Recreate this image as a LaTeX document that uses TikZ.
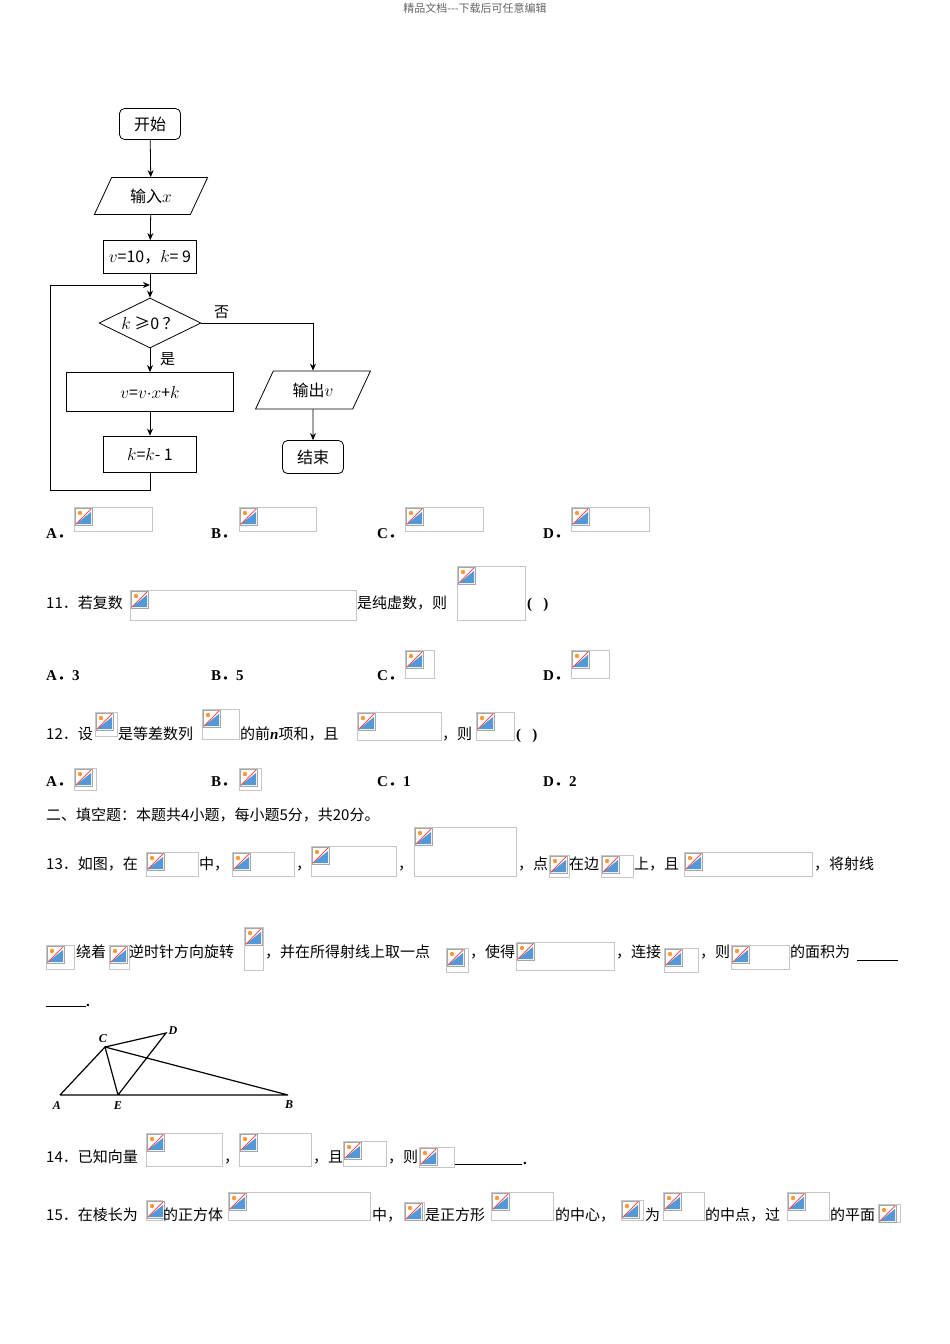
\documentclass[tikz,border=0pt]{standalone}
\usepackage{fontspec}
\setmainfont{Liberation Serif}
\newfontfamily\cjk{Noto Sans CJK SC}
\newcommand\fw{{\cjk ．}}
\usetikzlibrary{shapes.geometric,arrows.meta}
\newcommand\brk[4]{%
 \draw[gray!45,line width=0.6pt] (#1pt,-#2pt) rectangle ++(#3pt,-#4pt);
 \draw[gray!70,fill=white,line width=0.5pt] (#1pt+1pt,-#2pt-1pt) rectangle ++(17pt,-17pt);
 \fill[cyan!60!blue!70] (#1pt+2pt,-#2pt-17pt) -- (#1pt+17pt,-#2pt-17pt) -- (#1pt+17pt,-#2pt-5pt) -- cycle;
 \fill[orange!80] (#1pt+6pt,-#2pt-6pt) circle (2.2pt);
 \draw[red!70,line width=0.8pt] (#1pt+2pt,-#2pt-17pt) -- (#1pt+17pt,-#2pt-2pt);
}
\begin{document}
\begin{tikzpicture}[x=1pt,y=1pt,
 t/.style={anchor=base west,inner sep=0pt,font=\cjk\fontsize{15}{18}\selectfont},
 tb/.style={anchor=base west,inner sep=0pt,font=\bfseries\fontsize{15}{18}\selectfont},
 fc/.style={draw,line width=0.8pt,font=\cjk\fontsize{16}{19}\selectfont},
 arr/.style={-{Stealth[length=7pt,width=6pt]},line width=0.8pt}]
\useasboundingbox (0,0) rectangle (950,-1344);
\fill[white] (0,0) rectangle (950,-1344);
\node[anchor=north,font=\cjk\fontsize{11}{13}\selectfont,text=gray!80!black] (hdr) at (475,0) {精品文档---下载后可任意编辑};
% flowchart
\node[fc,rounded corners=5pt,minimum width=61,minimum height=31] (s) at (150,-124) {开始};
\node[fc,trapezium,trapezium left angle=65,trapezium right angle=115,minimum width=100,minimum height=37,inner xsep=2pt] (in) at (151,-196) {输入$x$};
\node[fc,minimum width=93,minimum height=33] (init) at (150,-257) {$v$=10，$k$= 9};
\node[fc,diamond,aspect=2.1,minimum width=102,minimum height=50,inner sep=0pt] (d) at (150,-323) {$k$ ≥0 ？};
\node[fc,minimum width=167,minimum height=39] (upd) at (150,-392) {$v$=$v{\cdot}x$+$k$};
\node[fc,minimum width=93,minimum height=36] (dec) at (150,-454) {$k$=$k$- 1};
\node[fc,trapezium,trapezium left angle=65,trapezium right angle=115,minimum width=100,minimum height=38,inner xsep=2pt] (out) at (313,-390) {输出$v$};
\node[fc,rounded corners=5pt,minimum width=61,minimum height=33] (e) at (313,-457) {结束};
\node[t] (no) at (214,-317) {否};
\node[t] (yes) at (160,-364) {是};
\coordinate (lp) at (150,-285);
\draw[arr] (s) -- (in);
\draw[arr] (in) -- (init);
\draw[arr] (init) -- (d);
\draw[arr] (d) -- (upd);
\draw[arr] (upd) -- (dec);
\draw[arr] (dec.south) -- ++(0,-18) -| (50,-285) -- (lp);
\draw[arr] (d.east) -| (out.north);
\draw[arr] (out) -- (e);
% choices row 1
\node[tb] (a1) at (46,-538) {A\fw}; \brk{74}{507}{78}{24}
\node[tb] (b1) at (211,-538) {B\fw}; \brk{239}{507}{77}{24}
\node[tb] (c1) at (377,-538) {C\fw}; \brk{405}{507}{78}{24}
\node[tb] (d1) at (543,-538) {D\fw}; \brk{571}{507}{78}{24}
% 11
\node[t] (q11) at (46,-608) {11．若复数}; \brk{130}{590}{226}{30}
\node[t] (q11b) at (357,-608) {是纯虚数，则}; \brk{457}{566}{68}{54}
\node[tb] (q11c) at (527,-608) {(\ \ \ )};
\node[tb] (a2) at (46,-680) {A\fw 3};
\node[tb] (b2) at (211,-680) {B\fw 5};
\node[tb] (c2) at (377,-680) {C\fw}; \brk{405}{650}{29}{28}
\node[tb] (d2) at (543,-680) {D\fw}; \brk{571}{650}{38}{28}
% 12
\node[t] (q12) at (46,-739) {12．设}; \brk{95}{712}{22}{24}
\node[t] (q12b) at (118,-739) {是等差数列}; \brk{202}{709}{37}{30}
\node[t] (q12c) at (240,-739) {的前{\rmfamily\bfseries\itshape n}项和，且}; \brk{357}{712}{84}{28}
\node[t] (q12d) at (442,-739) {，则}; \brk{476}{712}{38}{28}
\node[tb] (q12e) at (516,-739) {(\ \ \ )};
\node[tb] (a3) at (46,-786) {A\fw}; \brk{74}{768}{22}{22}
\node[tb] (b3) at (211,-786) {B\fw}; \brk{239}{768}{22}{22}
\node[tb] (c3) at (377,-786) {C\fw 1};
\node[tb] (d3) at (543,-786) {D\fw 2};
\node[t] (sec) at (46,-820) {二、填空题：本题共4小题，每小题5分，共20分。};
% 13
\node[t] (q13) at (46,-869) {13．如图，在}; \brk{146}{852}{52}{24}
\node[t] (q13b) at (199,-869) {中，}; \brk{232}{852}{62}{24}
\node[t] (q13c) at (296,-869) {，}; \brk{311}{846}{85}{30}
\node[t] (q13d) at (398,-869) {，}; \brk{414}{827}{102}{49}
\node[t] (q13e) at (518,-869) {，点}; \brk{549}{855}{20}{22}
\node[t] (q13f) at (569,-869) {在边}; \brk{601}{855}{32}{22}
\node[t] (q13g) at (634,-869) {上，且}; \brk{684}{852}{128}{24}
\node[t] (q13h) at (814,-869) {，将射线};
\brk{46}{945}{28}{24}
\node[t] (r1) at (76,-957) {绕着}; \brk{109}{945}{20}{24}
\node[t] (r2) at (129,-957) {逆时针方向旋转}; \brk{244}{927}{19}{43}
\node[t] (r3) at (265,-957) {，并在所得射线上取一点}; \brk{446}{948}{22}{24}
\node[t] (r4) at (470,-957) {，使得}; \brk{516}{942}{98}{28}
\node[t] (r5) at (616,-957) {，连接}; \brk{664}{948}{34}{24}
\node[t] (r6) at (700,-957) {，则}; \brk{731}{945}{58}{24}
\node[t] (r7) at (790,-957) {的面积为};
\draw[line width=0.8pt] (857,-960) -- (898,-960);
\draw[line width=0.8pt] (46,-1006) -- (86,-1006);
\node[tb] (dot) at (86,-1006) {.};
% figure
\coordinate (A) at (60,-1095); \coordinate (E) at (118,-1095); \coordinate (B) at (288,-1095);
\coordinate (C) at (105,-1047); \coordinate (D) at (166,-1033);
\draw[line width=1.2pt] (A) -- (B) (A) -- (C) -- (E) (C) -- (D) -- (E) (C) -- (B);
\node[font=\bfseries\itshape\fontsize{12}{14}\selectfont] (lA) at (57,-1106) {A};
\node[font=\bfseries\itshape\fontsize{12}{14}\selectfont] (lE) at (118,-1106) {E};
\node[font=\bfseries\itshape\fontsize{12}{14}\selectfont] (lB) at (289,-1105) {B};
\node[font=\bfseries\itshape\fontsize{12}{14}\selectfont] (lC) at (103,-1039) {C};
\node[font=\bfseries\itshape\fontsize{12}{14}\selectfont] (lD) at (173,-1031) {D};
% 14
\node[t] (q14) at (46,-1162) {14．已知向量}; \brk{146}{1133}{76}{33}
\node[t] (q14b) at (224,-1162) {，}; \brk{239}{1133}{72}{33}
\node[t] (q14c) at (313,-1162) {，且}; \brk{343}{1141}{43}{25}
\node[t] (q14d) at (388,-1162) {，则}; \brk{419}{1147}{35}{20}
\draw[line width=0.8pt] (455,-1164) -- (522,-1164);
\node[tb] (q14e) at (523,-1164) {.};
% 15
\node[t] (q15) at (46,-1220) {15．在棱长为}; \brk{146}{1200}{16}{20}
\node[t] (q15b) at (163,-1220) {的正方体}; \brk{228}{1192}{142}{28}
\node[t] (q15c) at (372,-1220) {中，}; \brk{404}{1202}{20}{18}
\node[t] (q15d) at (425,-1220) {是正方形}; \brk{491}{1192}{62}{28}
\node[t] (q15e) at (555,-1220) {的中心，}; \brk{621}{1200}{22}{20}
\node[t] (q15f) at (645,-1220) {为}; \brk{663}{1192}{41}{28}
\node[t] (q15g) at (705,-1220) {的中点，过}; \brk{787}{1192}{42}{28}
\node[t] (q15h) at (830,-1220) {的平面}; \brk{878}{1204}{22}{18}
\end{tikzpicture}
\end{document}
